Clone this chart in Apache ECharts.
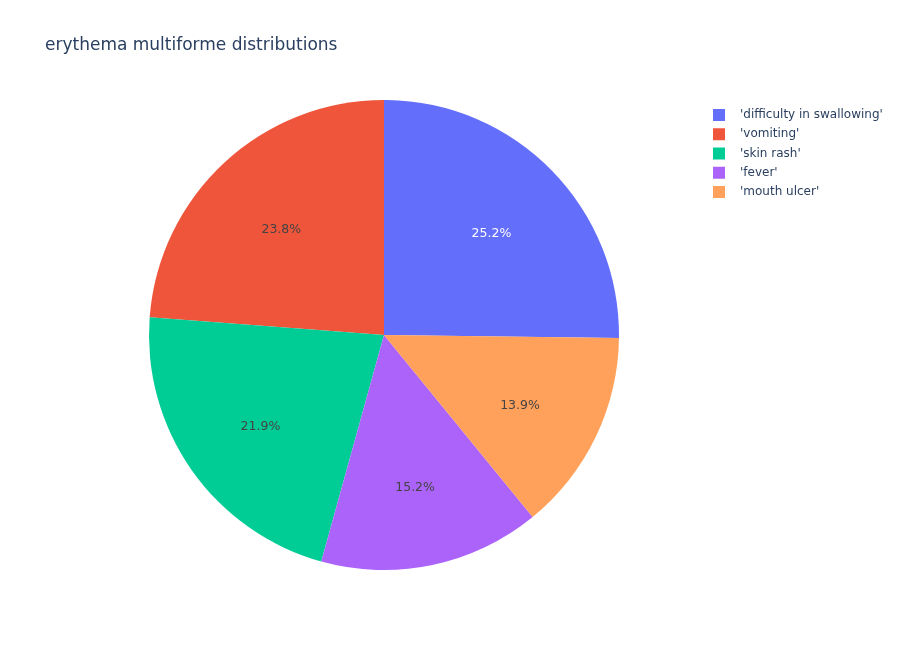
<!DOCTYPE html>
<html>
<head>
<meta charset="utf-8">
<script src="https://cdn.jsdelivr.net/npm/echarts@6/dist/echarts.min.js"></script>
<style>
  html, body { margin: 0; padding: 0; background: #fff; }
  #main { width: 900px; height: 650px; }
</style>
</head>
<body>
<div id="main"></div>
<script>
// 数据
const names = ["'difficulty in swallowing'", "'vomiting'", "'skin rash'", "'fever'", "'mouth ulcer'"]
const values = [25.2, 23.8, 21.9, 15.2, 13.9]
const colors = ['#636efa', '#EF553B', '#00cc96', '#ab63fa', '#FFA15A']
const labelColors = ['#ffffff', '#444444', '#444444', '#444444', '#444444']

const total = values.reduce((a, b) => a + b, 0)
// 第一块从 12 点钟结束, 逆时针排列
const startAngle = 90 - values[0] / total * 360

const pieData = names.map((n, i) => ({
  name: n,
  value: values[i],
  itemStyle: { color: colors[i] }
}))

const labelData = names.map((n, i) => ({
  name: n,
  value: values[i],
  label: { color: labelColors[i] }
}))

const font = "'DejaVu Sans', Verdana, sans-serif"

const chart = echarts.init(document.getElementById('main'))
chart.setOption({
  animation: false,
  title: {
    text: 'erythema multiforme distributions',
    left: 40,
    top: 32,
    textStyle: {
      fontFamily: font,
      fontSize: 17,
      fontWeight: 'normal',
      color: '#2a3f5f'
    }
  },
  legend: {
    orient: 'vertical',
    left: 708,
    top: 104,
    itemWidth: 12,
    itemHeight: 12,
    itemGap: 7.25,
    icon: 'rect',
    data: names,
    textStyle: {
      fontFamily: font,
      fontSize: 12,
      color: '#2a3f5f',
      padding: [0, 0, 0, 10]
    }
  },
  series: [
    {
      name: 'pie',
      type: 'pie',
      center: [384, 335],
      radius: [0, 235],
      clockwise: false,
      startAngle: startAngle,
      data: pieData,
      label: { show: false },
      labelLine: { show: false },
      emphasis: { scale: false }
    },
    {
      // 只用来放百分比标签
      name: 'labels',
      type: 'pie',
      center: [384, 335],
      radius: [0, 296],
      clockwise: false,
      startAngle: startAngle,
      silent: true,
      data: labelData,
      itemStyle: { color: 'rgba(0,0,0,0)' },
      label: {
        show: true,
        position: 'inside',
        offset: [0, 5],
        fontFamily: font,
        fontSize: 12.5,
        formatter: p => p.percent.toFixed(1) + '%'
      },
      labelLine: { show: false },
      legendHoverLink: false
    }
  ]
})
</script>
</body>
</html>
